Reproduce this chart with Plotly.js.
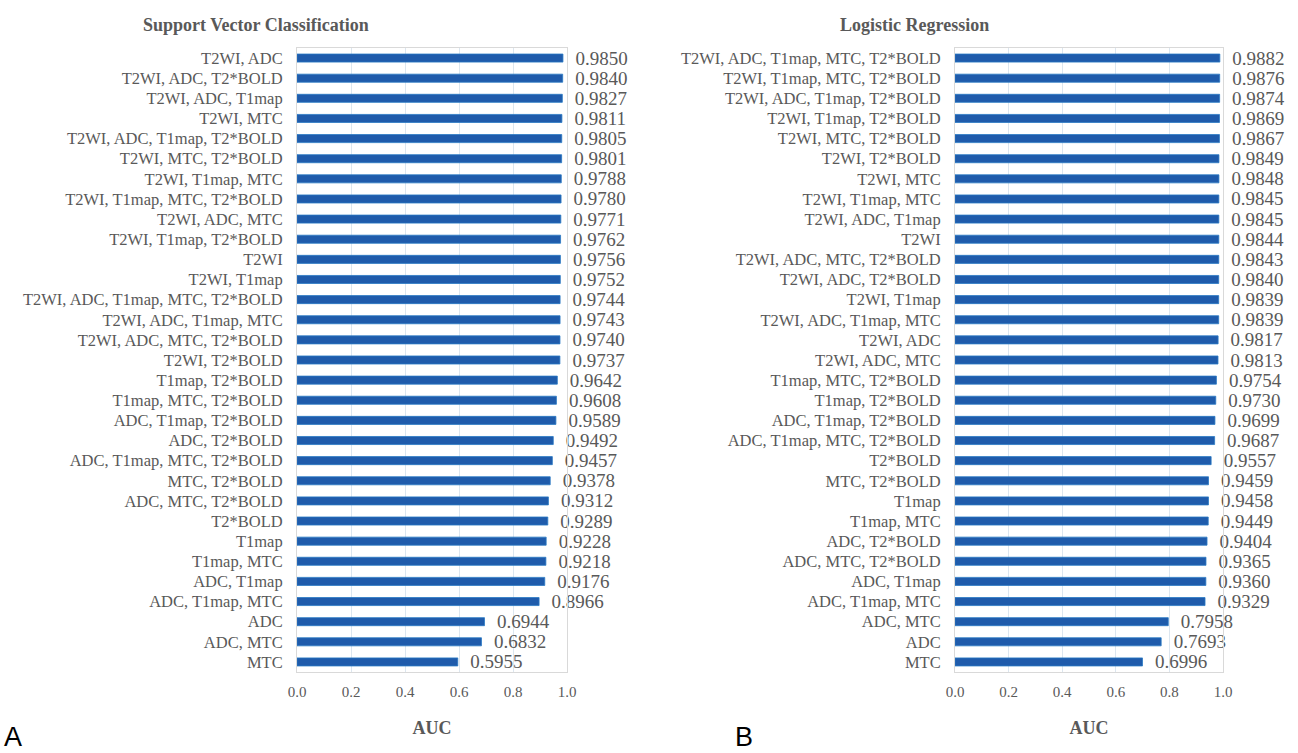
<!DOCTYPE html>
<html><head><meta charset="utf-8">
<script src="https://cdn.plot.ly/plotly-3.0.1.min.js"></script>
<style>body{margin:0;background:#fff}#c{width:1298px;height:753px}</style>
</head><body><div id="c"></div>
<script>
const svcLabels = ["T2WI, ADC","T2WI, ADC, T2*BOLD","T2WI, ADC, T1map","T2WI, MTC","T2WI, ADC, T1map, T2*BOLD","T2WI, MTC, T2*BOLD","T2WI, T1map, MTC","T2WI, T1map, MTC, T2*BOLD","T2WI, ADC, MTC","T2WI, T1map, T2*BOLD","T2WI","T2WI, T1map","T2WI, ADC, T1map, MTC, T2*BOLD","T2WI, ADC, T1map, MTC","T2WI, ADC, MTC, T2*BOLD","T2WI, T2*BOLD","T1map, T2*BOLD","T1map, MTC, T2*BOLD","ADC, T1map, T2*BOLD","ADC, T2*BOLD","ADC, T1map, MTC, T2*BOLD","MTC, T2*BOLD","ADC, MTC, T2*BOLD","T2*BOLD","T1map","T1map, MTC","ADC, T1map","ADC, T1map, MTC","ADC","ADC, MTC","MTC"];
const svcValues = [0.9850,0.9840,0.9827,0.9811,0.9805,0.9801,0.9788,0.9780,0.9771,0.9762,0.9756,0.9752,0.9744,0.9743,0.9740,0.9737,0.9642,0.9608,0.9589,0.9492,0.9457,0.9378,0.9312,0.9289,0.9228,0.9218,0.9176,0.8966,0.6944,0.6832,0.5955];
const lrLabels = ["T2WI, ADC, T1map, MTC, T2*BOLD","T2WI, T1map, MTC, T2*BOLD","T2WI, ADC, T1map, T2*BOLD","T2WI, T1map, T2*BOLD","T2WI, MTC, T2*BOLD","T2WI, T2*BOLD","T2WI, MTC","T2WI, T1map, MTC","T2WI, ADC, T1map","T2WI","T2WI, ADC, MTC, T2*BOLD","T2WI, ADC, T2*BOLD","T2WI, T1map","T2WI, ADC, T1map, MTC","T2WI, ADC","T2WI, ADC, MTC","T1map, MTC, T2*BOLD","T1map, T2*BOLD","ADC, T1map, T2*BOLD","ADC, T1map, MTC, T2*BOLD","T2*BOLD","MTC, T2*BOLD","T1map","T1map, MTC","ADC, T2*BOLD","ADC, MTC, T2*BOLD","ADC, T1map","ADC, T1map, MTC","ADC, MTC","ADC","MTC"];
const lrValues = [0.9882,0.9876,0.9874,0.9869,0.9867,0.9849,0.9848,0.9845,0.9845,0.9844,0.9843,0.9840,0.9839,0.9839,0.9817,0.9813,0.9754,0.9730,0.9699,0.9687,0.9557,0.9459,0.9458,0.9449,0.9404,0.9365,0.9360,0.9329,0.7958,0.7693,0.6996];
const xTicks = [0,0.2,0.4,0.6,0.8,1.0];
const xTickText = ["0.0","0.2","0.4","0.6","0.8","1.0"];

const serif = "Liberation Serif, Times New Roman, serif";
const grey = "#595959";
const barColor = "#1f5bab";

function bar(labels, values, xa, ya){
  return {type:"bar", orientation:"h", y:labels, x:values, xaxis:xa, yaxis:ya,
    marker:{color:barColor, line:{color:"#2a7ac4", width:0.8}},
    text:values.map(v=>"\u00a0\u00a0"+v.toFixed(4)), textposition:"outside", cliponaxis:false,
    constraintext:"none", textfont:{family:serif, size:19, color:grey}, hoverinfo:"none"};
}
function xax(domain, anchor){
  return {domain:domain, anchor:anchor, range:[0,1], tickvals:xTicks, ticktext:xTickText,
    showgrid:true, gridcolor:"#dce6ef", gridwidth:1, zeroline:false,
    showline:true, linecolor:"#d9d9d9", mirror:true, ticks:"", ticklabelstandoff:6,
    tickfont:{family:serif, size:15, color:grey},
    title:{text:"<b>AUC</b>", font:{family:serif, size:18, color:grey}, standoff:22}};
}
function yax(labels, anchor){
  return {anchor:anchor, type:"category", categoryorder:"array", categoryarray:labels,
    autorange:"reversed", showgrid:false, zeroline:false, showline:true, linecolor:"#d9d9d9", mirror:true,
    ticks:"", ticklabelstandoff:10, tickfont:{family:serif, size:16.5, color:grey}};
}
const layout = {
  width:1298, height:753, margin:{l:0, r:0, t:48, b:81},
  paper_bgcolor:"#fff", plot_bgcolor:"#fff", showlegend:false, bargap:0.6,
  xaxis:xax([297/1298, 567/1298], "y"),
  yaxis:yax(svcLabels, "x"),
  xaxis2:xax([955/1298, 1223/1298], "y2"),
  yaxis2:yax(lrLabels, "x2"),
  annotations:[
    {text:"<b>Support Vector Classification</b>", xref:"paper", yref:"paper", x:256/1298, y:1, yshift:23, xanchor:"center", yanchor:"middle", showarrow:false, font:{family:serif, size:18, color:grey}},
    {text:"<b>Logistic Regression</b>", xref:"paper", yref:"paper", x:914/1298, y:1, yshift:23, xanchor:"center", yanchor:"middle", showarrow:false, font:{family:serif, size:18, color:grey}},
    {text:"A", xref:"paper", yref:"paper", x:2/1298, y:-(737-672)/624, xanchor:"left", yanchor:"middle", showarrow:false, font:{family:"Liberation Sans, Arial, sans-serif", size:27, color:"#000"}},
    {text:"B", xref:"paper", yref:"paper", x:733/1298, y:-(737-672)/624, xanchor:"left", yanchor:"middle", showarrow:false, font:{family:"Liberation Sans, Arial, sans-serif", size:27, color:"#000"}}
  ]
};
Plotly.newPlot("c", [bar(svcLabels, svcValues, "x", "y"), bar(lrLabels, lrValues, "x2", "y2")], layout, {staticPlot:true});
</script></body></html>
